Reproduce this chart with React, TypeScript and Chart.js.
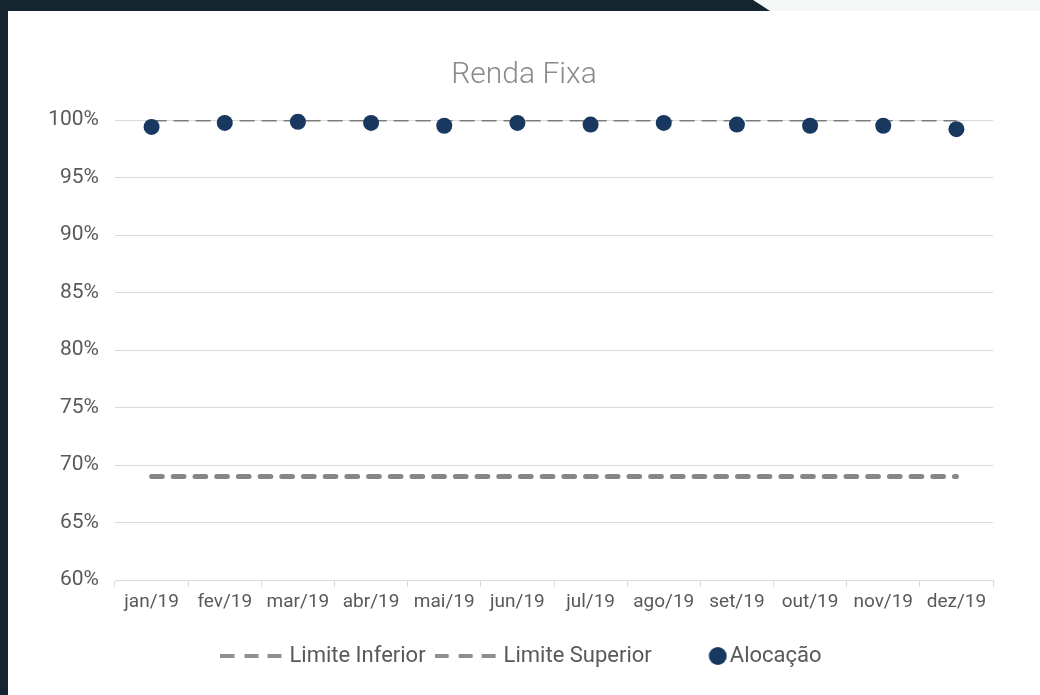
import React, { useEffect, useRef } from "react";
import { Chart, registerables } from "chart.js";

Chart.register(...registerables);

const months = ["jan/19", "fev/19", "mar/19", "abr/19", "mai/19", "jun/19", "jul/19", "ago/19", "set/19", "out/19", "nov/19", "dez/19"];
const limiteInferior = [69, 69, 69, 69, 69, 69, 69, 69, 69, 69, 69, 69];
const limiteSuperior = [100, 100, 100, 100, 100, 100, 100, 100, 100, 100, 100, 100];
const alocacao = [99.4, 99.75, 99.85, 99.75, 99.5, 99.75, 99.6, 99.75, 99.6, 99.5, 99.5, 99.2];
const yTickValues = [60, 65, 70, 75, 80, 85, 90, 95, 100];
const seriesNames = ["Limite Inferior", "Limite Superior", "Alocação"];
const chartTitle = "Renda Fixa";

const GREY_LINE = "#868686";
const NAVY = "#18385f";
const TEXT = "#595959";
const GRID = "#d9d9d9";

function makeDashIcon(): HTMLCanvasElement {
  const c = document.createElement("canvas");
  c.width = 64;
  c.height = 12;
  const ctx = c.getContext("2d")!;
  ctx.fillStyle = "#8f8f8f";
  const starts = [0, 24, 47];
  for (const s of starts) {
    ctx.fillRect(s, 4, 14, 4);
  }
  return c;
}

function makeCircleIcon(): HTMLCanvasElement {
  const c = document.createElement("canvas");
  c.width = 69;
  c.height = 20;
  const ctx = c.getContext("2d")!;
  ctx.fillStyle = NAVY;
  ctx.beginPath();
  ctx.arc(59.5, 10, 9, 0, Math.PI * 2);
  ctx.fill();
  return c;
}

export default function App() {
  const canvasRef = useRef<HTMLCanvasElement | null>(null);

  useEffect(() => {
    const canvas = canvasRef.current;
    if (!canvas) return;
    const dashIcon = makeDashIcon();
    const circleIcon = makeCircleIcon();
    const icons = [dashIcon, dashIcon, circleIcon];

    const chart = new Chart(canvas, {
      type: "line",
      data: {
        labels: months,
        datasets: [
          {
            label: seriesNames[0],
            data: limiteInferior,
            borderColor: GREY_LINE,
            backgroundColor: GREY_LINE,
            borderWidth: 5,
            borderDash: [10.7, 11],
            borderCapStyle: "round",
            pointRadius: 0,
            pointHoverRadius: 0,
            fill: false,
            order: 2,
          },
          {
            label: seriesNames[1],
            data: limiteSuperior,
            borderColor: "#7c7c7c",
            backgroundColor: "#7c7c7c",
            borderWidth: 3,
            borderDash: [15, 7],
            pointRadius: 0,
            pointHoverRadius: 0,
            fill: false,
            order: 1,
          },
          {
            label: seriesNames[2],
            data: alocacao,
            showLine: false,
            borderColor: NAVY,
            backgroundColor: NAVY,
            pointRadius: 8,
            pointHoverRadius: 8,
            pointBorderWidth: 0,
            clip: false as any,
            order: 0,
          },
        ],
      },
      options: {
        animation: false,
        responsive: false,
        devicePixelRatio: 1,
        layout: { padding: { left: 0, right: 0, top: 0, bottom: 18 } },
        plugins: {
          tooltip: { enabled: false },
          title: {
            display: true,
            text: chartTitle,
            color: "#8a8a8a",
            font: { family: "Roboto", size: 30, weight: "300" as any },
            padding: { top: 46, bottom: 27 },
          },
          legend: {
            display: true,
            position: "bottom",
            labels: {
              usePointStyle: true,
              pointStyleWidth: 52,
              padding: 15,
              color: TEXT,
              font: { family: "Roboto", size: 22 },
              generateLabels: (ch: any) =>
                ch.data.datasets.map((ds: any, i: number) => ({
                  text: ds.label,
                  fillStyle: ds.backgroundColor,
                  strokeStyle: ds.borderColor,
                  lineWidth: 0,
                  pointStyle: icons[i],
                  hidden: !ch.isDatasetVisible(i),
                  datasetIndex: i,
                  fontColor: TEXT,
                })),
            },
          },
        },
        scales: {
          x: {
            offset: true,
            grid: {
              display: true,
              drawOnChartArea: false,
              drawTicks: true,
              tickLength: 7,
              offset: true,
              color: GRID,
            },
            border: { display: true, color: GRID },
            ticks: {
              color: TEXT,
              font: { family: "Roboto", size: 19 },
              padding: 4,
              maxRotation: 0,
              autoSkip: false,
            },
            afterFit: (scale: any) => {
              scale.height = 50;
            },
          },
          y: {
            min: 60,
            max: 100,
            grid: { color: GRID, drawTicks: false, lineWidth: 1 },
            border: { display: false },
            ticks: {
              color: TEXT,
              font: { family: "Roboto", size: 21 },
              padding: 16,
              callback: (v: any) => `${v}%`,
            },
            afterBuildTicks: (scale: any) => {
              scale.ticks = yTickValues.map((v) => ({ value: v }));
            },
            afterFit: (scale: any) => {
              scale.width = 107;
            },
          },
          yRight: {
            type: "linear",
            position: "right",
            display: true,
            min: 60,
            max: 100,
            grid: { display: false, drawTicks: false },
            border: { display: false },
            ticks: { display: false },
            afterFit: (scale: any) => {
              scale.width = 47;
            },
          },
        },
      },
    });
    return () => chart.destroy();
  }, []);

  return (
    <div
      style={{
        position: "fixed",
        left: 0,
        top: 0,
        width: 1040,
        height: 695,
        background: "#15252f",
        overflow: "hidden",
      }}
    >
      <div
        style={{
          position: "absolute",
          left: 0,
          top: 0,
          width: 1040,
          height: 11,
          background: "#f5f6f6",
          clipPath: "polygon(753px 0, 1040px 0, 1040px 11px, 770px 11px)",
        }}
      />
      <div
        style={{
          position: "absolute",
          left: 8,
          top: 11,
          width: 1032,
          height: 684,
          background: "#ffffff",
        }}
      >
        <canvas ref={canvasRef} width={1032} height={684} style={{ display: "block", width: 1032, height: 684 }} />
      </div>
    </div>
  );
}
